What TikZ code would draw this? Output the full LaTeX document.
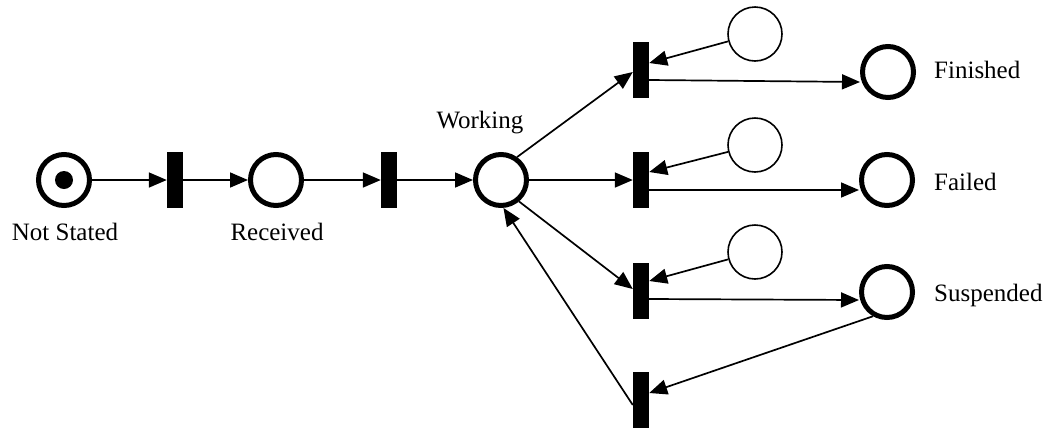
\documentclass[tikz,border=0pt]{standalone}
\usepackage{fontspec}
\setmainfont{Liberation Serif}
\usetikzlibrary{arrows.meta}
\begin{document}
\begin{tikzpicture}[x=1pt,y=-1pt,
  place/.style={circle,draw,line width=5pt,minimum size=51pt,inner sep=0pt},
  cond/.style={circle,draw,line width=1.6pt,minimum size=54pt,inner sep=0pt},
  trans/.style={rectangle,fill=black,minimum width=16pt,minimum height=56pt,inner sep=0pt},
  token/.style={circle,fill=black,minimum size=18pt,inner sep=0pt},
  arc/.style={line width=1.7pt,-{Triangle[length=18pt,width=15pt]}},
  lbl/.style={font=\fontsize{25}{30}\selectfont,inner sep=0pt}
]
\useasboundingbox (0,0) rectangle (1059,429);

% main chain
\node[place] (NS) at (64,180) {};
\node[token] (tok) at (64,180) {};
\node[trans] (t1) at (175,180) {};
\node[place] (R)  at (276,180) {};
\node[trans] (t2) at (389,180) {};
\node[place] (W)  at (501,180) {};

% outcome branches
\node[trans] (t3) at (641,70) {};
\node[cond]  (s1) at (755,34) {};
\node[place] (F)  at (888,72) {};

\node[trans] (t4) at (641,180) {};
\node[cond]  (s2) at (755,145) {};
\node[place] (Fa) at (887,180) {};

\node[trans] (t5) at (641,291) {};
\node[cond]  (s3) at (755,252) {};
\node[place] (Su) at (887,292) {};

\node[trans] (t6) at (641,400) {};

% labels
\node[lbl,anchor=base] (lNS) at (65,240) {Not Stated};
\node[lbl,anchor=base] (lR)  at (277,240) {Received};
\node[lbl,anchor=base] (lW)  at (480,128) {Working};
\node[lbl,anchor=base west] (lF)  at (934,78) {Finished};
\node[lbl,anchor=base west] (lFa) at (934,190) {Failed};
\node[lbl,anchor=base west] (lSu) at (934,301) {Suspended};

% arcs of the main chain
\draw[arc] (NS) -- (t1);
\draw[arc] (t1) -- (R);
\draw[arc] (R) -- (t2);
\draw[arc] (t2) -- (W);

% arcs out of Working
\draw[arc] (W.55) -- ([yshift=-2pt]t3.west);
\draw[arc] (W) -- (t4);
\draw[arc] (W.-50) -- ([yshift=2pt]t5.west);
\draw[arc] ([yshift=-5pt]t6.west) -- (W.-85);

% condition places into transitions
\draw[arc] (s1) -- ([yshift=7pt]t3.east);
\draw[arc] (s2) -- ([yshift=8pt]t4.east);
\draw[arc] (s3) -- ([yshift=10pt]t5.east);

% transitions to outcome places
\draw[arc] ([yshift=-10pt]t3.east) -- ([yshift=-10pt]F.west);
\draw[arc] ([yshift=-10pt]t4.east) -- ([yshift=-10pt]Fa.west);
\draw[arc] ([yshift=-8pt]t5.east) -- ([yshift=-8pt]Su.west);

% resume from Suspended
\draw[arc] (Su.240) -- ([yshift=7pt]t6.east);
\end{tikzpicture}
\end{document}
